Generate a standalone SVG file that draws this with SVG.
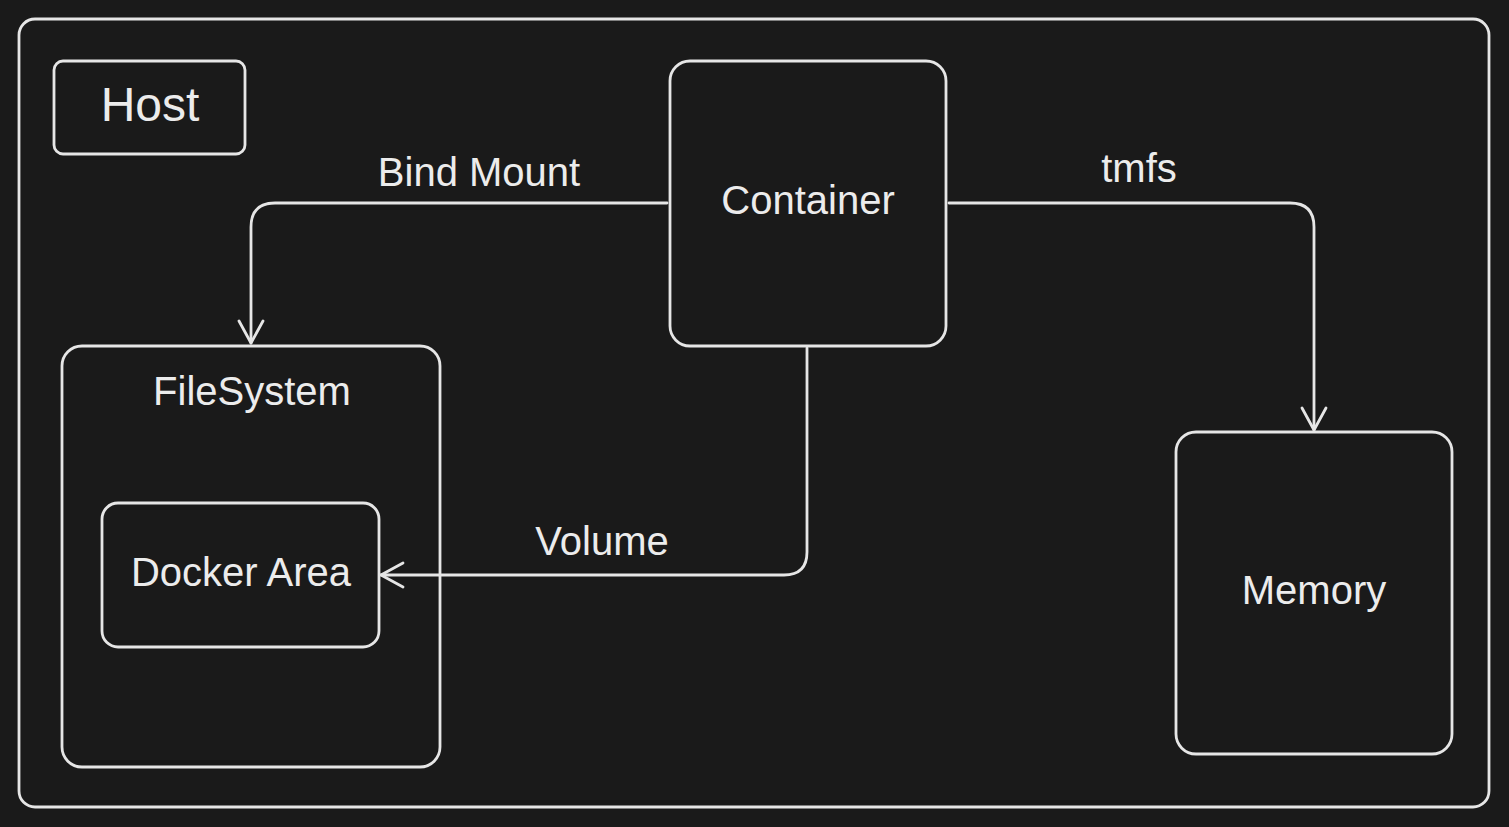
<svg xmlns="http://www.w3.org/2000/svg" width="1509" height="827" viewBox="0 0 1509 827">
<defs>
<style>
.box{fill:none;stroke:#e6e6e6;stroke-width:2.8;stroke-linecap:round;stroke-linejoin:round}
.edge{fill:none;stroke:#e6e6e6;stroke-width:2.8;stroke-linecap:round;stroke-linejoin:round}
.lbl{font-family:"Liberation Sans",Arial,sans-serif;font-size:40px;fill:#ececec;text-anchor:middle}
</style>
<marker id="arr" viewBox="0 0 28 28" refX="25" refY="14" markerWidth="28" markerHeight="28" markerUnits="userSpaceOnUse" orient="auto">
<path d="M3,2 L25,14 L3,26" fill="none" stroke="#e6e6e6" stroke-width="2.8" stroke-linecap="round" stroke-linejoin="round"/>
</marker>
</defs>
<rect width="1509" height="827" fill="#1a1a1a"/>
<g id="host-frame"><rect class="box" x="19" y="19" width="1470" height="788" rx="16"/></g>
<g id="host"><rect class="box" x="54" y="61" width="191" height="93" rx="9"/><text class="lbl" x="150" y="121" style="font-size:48px">Host</text></g>
<g id="container"><rect class="box" x="670" y="61" width="276" height="285" rx="20"/><text class="lbl" x="808" y="214">Container</text></g>
<g id="filesystem"><rect class="box" x="62" y="346" width="378" height="421" rx="20"/><text class="lbl" x="252" y="405">FileSystem</text></g>
<g id="docker-area"><rect class="box" x="102" y="503" width="277" height="144" rx="16"/><text class="lbl" x="241" y="586">Docker Area</text></g>
<g id="memory"><rect class="box" x="1176" y="432" width="276" height="322" rx="20"/><text class="lbl" x="1314" y="604">Memory</text></g>
<g id="connectors">
<path class="edge" d="M667,203 L275,203 Q251,203 251,227 L251,343" marker-end="url(#arr)"/>
<path class="edge" d="M949,203 L1290,203 Q1314,203 1314,227 L1314,430" marker-end="url(#arr)"/>
<path class="edge" d="M807,348 L807,552 Q807,575 784,575 L381,575" marker-end="url(#arr)"/>
<text class="lbl" x="479" y="186">Bind Mount</text>
<text class="lbl" x="1139" y="182">tmfs</text>
<text class="lbl" x="602" y="555">Volume</text>
</g>
</svg>
